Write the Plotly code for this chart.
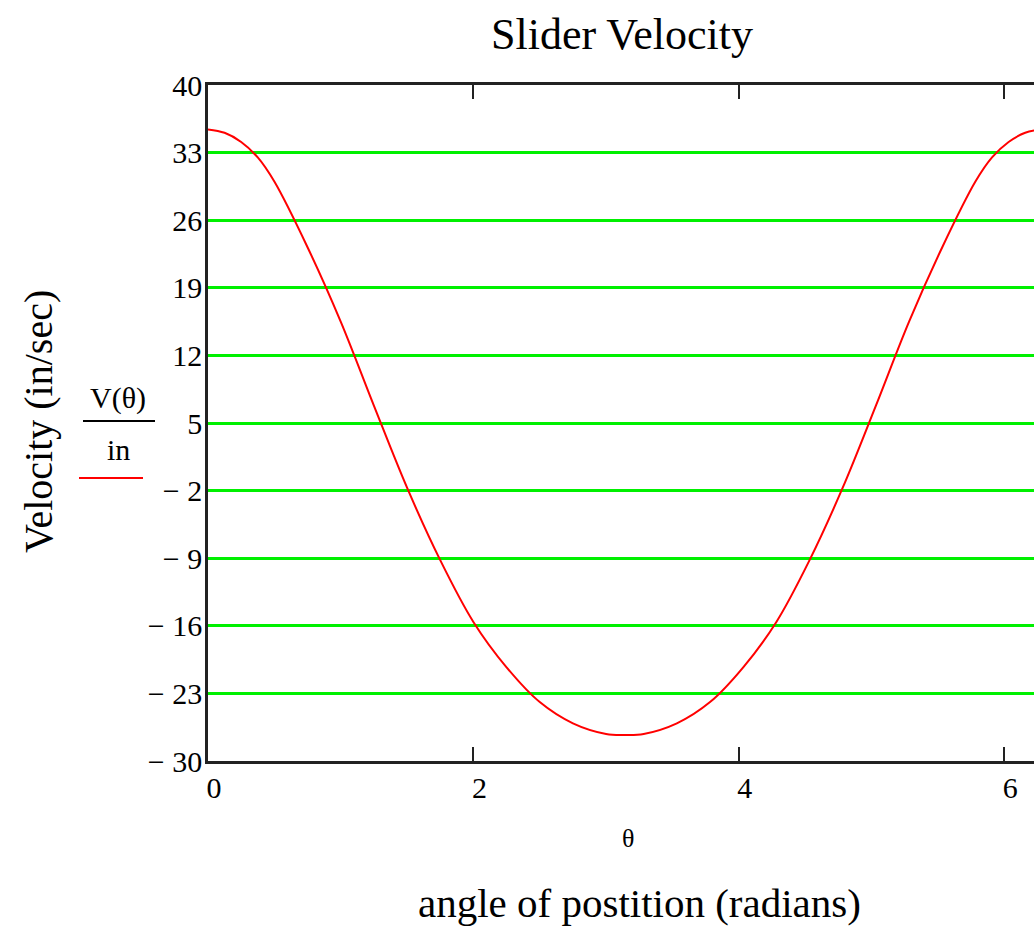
import plotly.graph_objects as go

# Data
theta = [0.00, 0.125, 0.25, 0.375, 0.50, 0.75, 1.00, 1.25, 1.50, 1.75, 2.00, 2.25, 2.50, 2.75, 3.00,
         3.1416, 3.2832, 3.5332, 3.7832, 4.0332, 4.2832, 4.5332, 4.7832, 5.0332,
         5.2832, 5.5332, 5.7832, 5.9082, 6.0332, 6.1582, 6.2832]
velocity = [35.4, 35.05, 34.1, 32.5, 30.0, 23.2, 15.5, 6.8, -1.7, -9.2, -15.6, -20.3, -23.9, -26.1, -27.2,
            -27.3, -27.2, -26.1, -23.9, -20.3, -15.6, -9.2, -1.7, 6.8,
            15.5, 23.2, 30.0, 32.5, 34.1, 35.05, 35.4]
y_tickvals = [40, 33, 26, 19, 12, 5, -2, -9, -16, -23, -30]
y_ticktext = ["40", "33", "26", "19", "12", "5", "\u2212 2", "\u2212 9", "\u2212 16", "\u2212 23", "\u2212 30"]
x_tickvals = [0, 2, 4, 6]
x_ticktext = ["0", "2", "4", "6"]

W, H = 1034, 928
L, R, T, B = 208, 0, 85, 167
PW, PH = W - L - R, H - T - B

def px(x):
    return (x - L) / PW

def py(y):
    return (H - B - y) / PH

FONT = "Liberation Serif"

fig = go.Figure()
fig.add_trace(go.Scatter(x=theta, y=velocity, mode="lines",
                         line=dict(color="#FF0000", width=2, shape="spline", smoothing=1.0),
                         showlegend=False, hoverinfo="skip"))

fig.update_layout(
    width=W, height=H,
    margin=dict(l=L, r=R, t=T, b=B),
    paper_bgcolor="white", plot_bgcolor="white",
    font=dict(family=FONT, color="black"),
    xaxis=dict(range=[0, PW / 132.7], tickvals=x_tickvals, ticktext=x_ticktext,
               ticks="inside", ticklen=14, tickwidth=2, tickcolor="#222",
               showline=True, linecolor="#222", linewidth=2.5, mirror="ticks",
               showgrid=False, zeroline=False,
               tickfont=dict(family=FONT, size=30, color="black"),
               ticklabelshift=6, ticklabelstandoff=-2),
    yaxis=dict(range=[-30, 40], tickvals=y_tickvals, ticktext=y_ticktext,
               ticks="", showline=True, linecolor="#222", linewidth=2.5, mirror=False,
               showgrid=True, gridcolor="#00F000", gridwidth=2.5, zeroline=False,
               tickfont=dict(family=FONT, size=30, color="black"),
               ticklabelstandoff=-3),
)

ann = [
    dict(text="Slider Velocity", x=px(622), y=py(35), size=44),
    dict(text="\u03b8", x=px(628), y=py(838), size=26),
    dict(text="angle of postition (radians)", x=px(639), y=py(903), size=41),
    dict(text="V(\u03b8)", x=px(118), y=py(398), size=30),
    dict(text="in", x=px(118), y=py(449), size=30),
]
for a in ann:
    fig.add_annotation(text=a["text"], x=a["x"], y=a["y"], xref="paper", yref="paper",
                       showarrow=False, xanchor="center", yanchor="middle",
                       font=dict(family=FONT, size=a["size"], color="black"))
fig.add_annotation(text="Velocity (in/sec)", x=px(38), y=py(422), xref="paper", yref="paper",
                   showarrow=False, textangle=-90, xanchor="center", yanchor="middle",
                   font=dict(family=FONT, size=40, color="black"))

fig.add_shape(type="line", xref="paper", yref="paper", x0=px(83), x1=px(155), y0=py(421), y1=py(421),
              line=dict(color="black", width=2))
fig.add_shape(type="line", xref="paper", yref="paper", x0=px(79), x1=px(143), y0=py(478), y1=py(478),
              line=dict(color="#FF0000", width=2))

fig.write_html("out.html")
